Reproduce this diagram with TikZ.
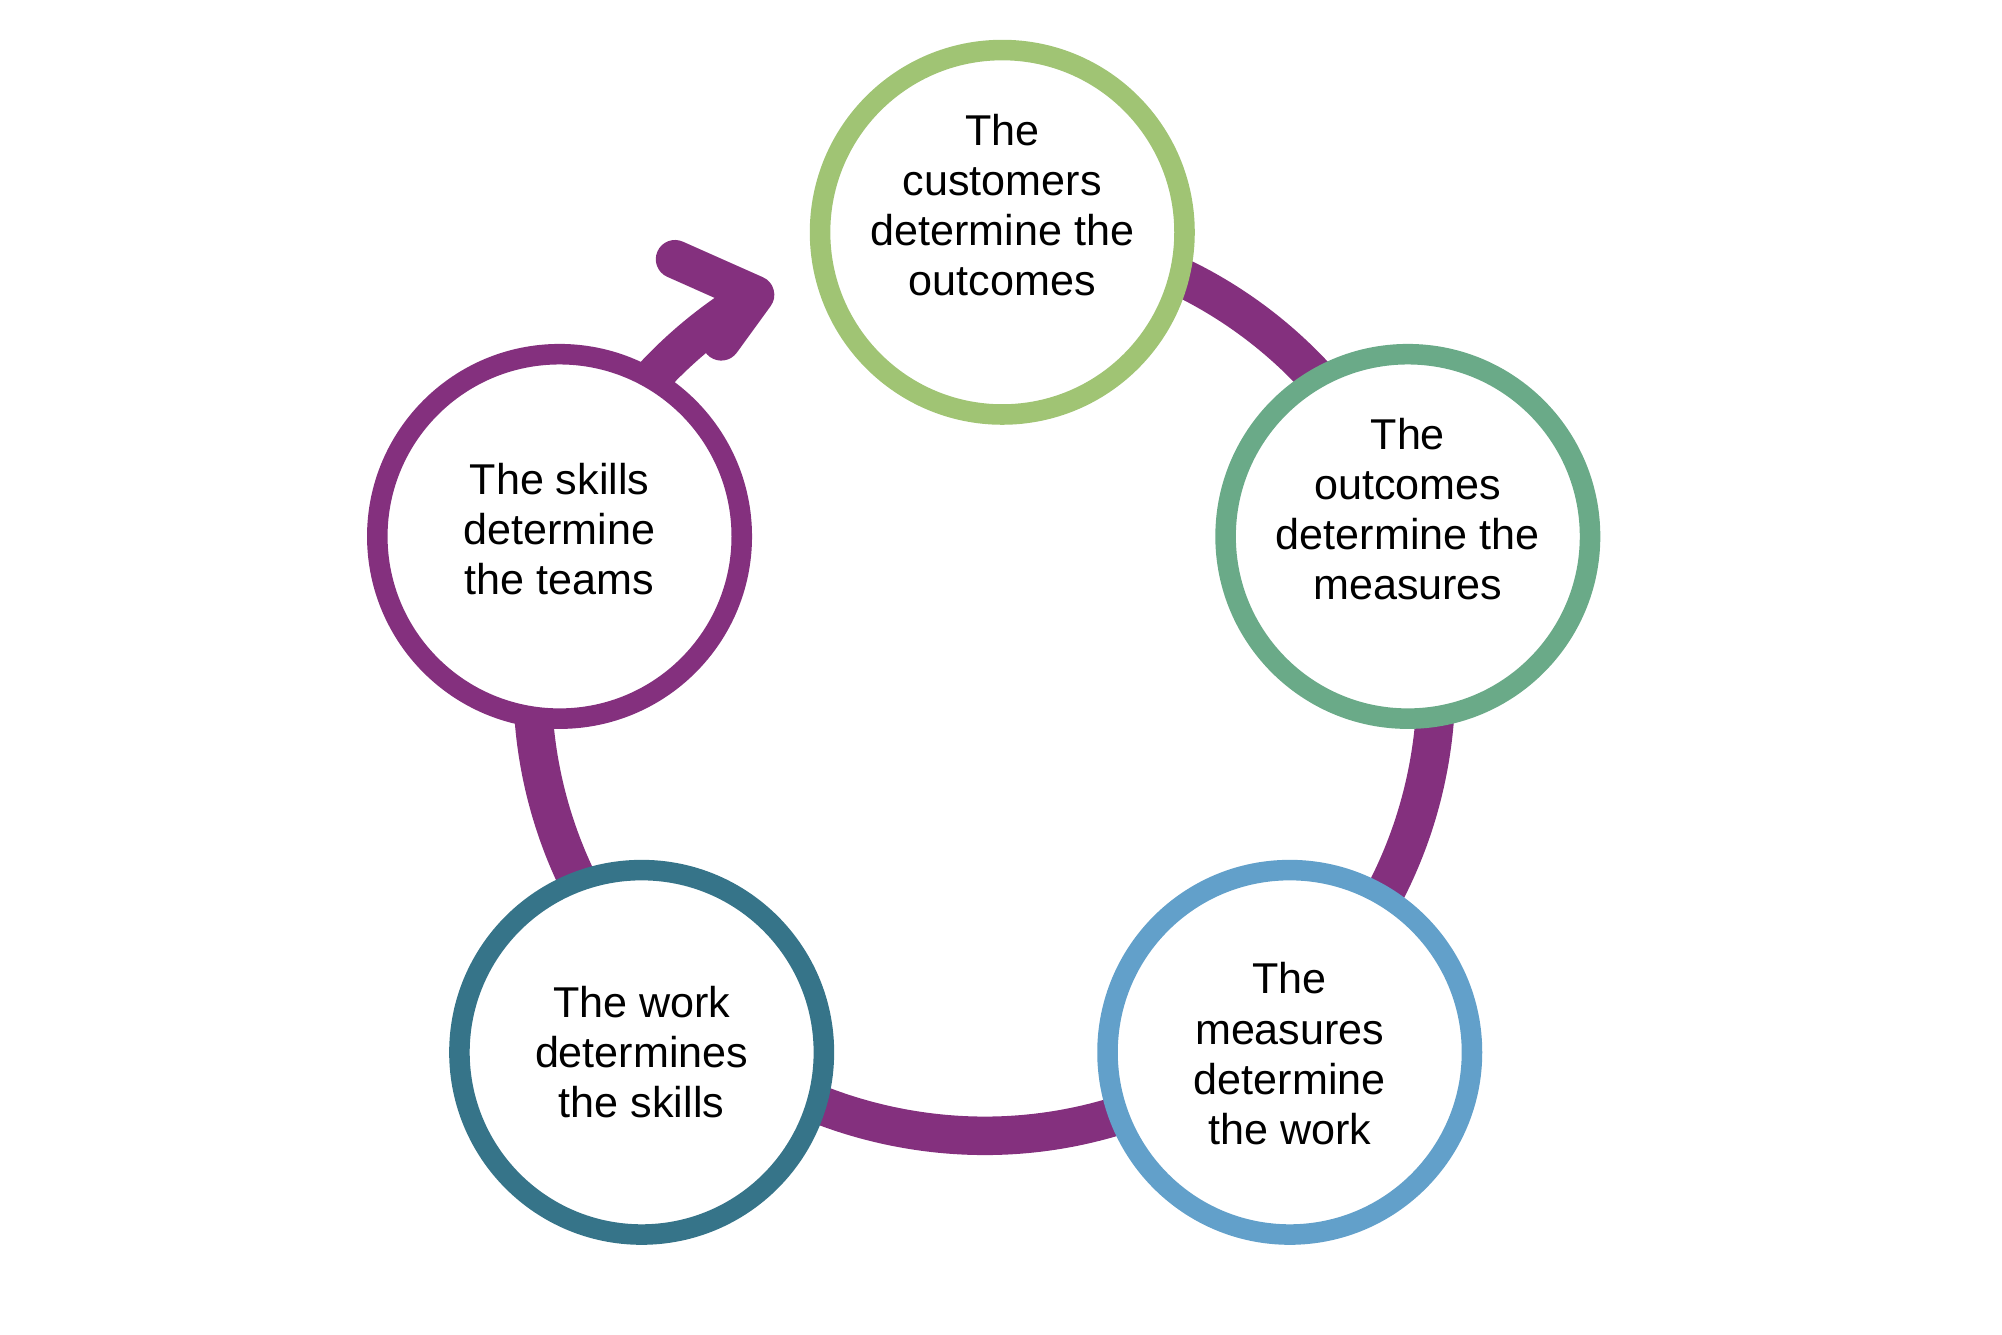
\documentclass[tikz,border=0pt]{standalone}
\usepackage{fontspec}
\setmainfont{Liberation Sans}
\begin{document}
\begin{tikzpicture}[x=0.5pt,y=0.5pt,
  stage/.style={circle,draw,fill=white,line width=8pt,minimum size=284*0.5pt,inner sep=0pt},
  lbl/.style={align=center,inner sep=0pt,font=\fontsize{16.8pt}{19.5pt}\selectfont},
  ring/.style={draw=ringc,line width=15pt}]
\definecolor{ringc}{HTML}{84307E}
\definecolor{cA}{HTML}{A0C474}
\definecolor{cB}{HTML}{6AAA88}
\definecolor{cC}{HTML}{62A0CA}
\definecolor{cD}{HTML}{367489}
\definecolor{cE}{HTML}{84307E}
\useasboundingbox (0,0) rectangle (1560,1040);
\coordinate (c) at (767,507);
\draw[ring] (c) ++(80:352) arc[start angle=80,end angle=-239.5,radius=352] coordinate (tip);
\coordinate (arm1) at (526,838);
\coordinate (arm2) at (562,774);
\draw[ring,line cap=round,line join=round] (arm1) -- (tip) -- (arm2);
\node[stage,draw=cA] (a) at (781,859) {};
\node[stage,draw=cB] (b) at (1097,622) {};
\node[stage,draw=cC] (d) at (1005,220) {};
\node[stage,draw=cD] (e) at (500,220) {};
\node[stage,draw=cE] (f) at (436,622) {};
\node[lbl] (ta) at ([yshift=10.5pt]a.center) {The\\customers\\determine the\\outcomes};
\node[lbl] (tb) at ([yshift=10.5pt]b.center) {The\\outcomes\\determine the\\measures};
\node[lbl] (td) at ([yshift=-0.5pt]d.center) {The\\measures\\determine\\ the work};
\node[lbl] (te) at ([yshift=0pt]e.center) {The work\\determines\\the skills};
\node[lbl] (tf) at ([yshift=3pt]f.center) {The skills\\determine\\the teams};
\end{tikzpicture}
\end{document}
